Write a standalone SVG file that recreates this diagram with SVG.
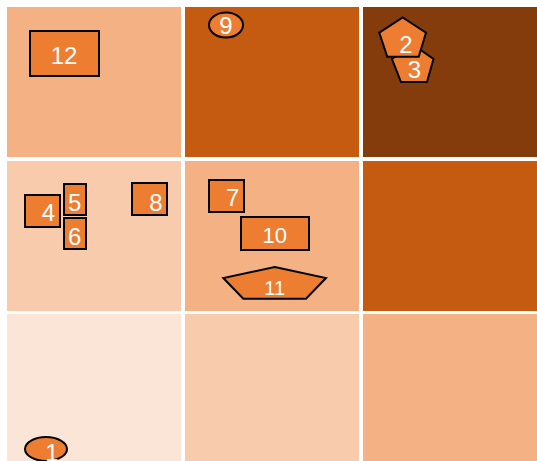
<svg xmlns="http://www.w3.org/2000/svg" width="537" height="461" viewBox="0 0 537 461">
<style>
.n{fill:#ED7D31;stroke:#000;stroke-width:2}
.t{fill:#fff;font-family:"Liberation Sans",Arial,sans-serif;font-size:24px;text-anchor:middle}
</style>
<rect width="537" height="461" fill="#fff"/>
<g id="grid">
<rect x="7" y="7" width="174" height="150" fill="#F4B183"/>
<rect x="185" y="7" width="174" height="150" fill="#C55A11"/>
<rect x="363" y="7" width="174" height="150" fill="#843C0C"/>
<rect x="7" y="161" width="174" height="150" fill="#F8CBAD"/>
<rect x="185" y="161" width="174" height="150" fill="#F4B183"/>
<rect x="363" y="161" width="174" height="150" fill="#C55A11"/>
<rect x="7" y="314" width="174" height="147" fill="#FBE5D6"/>
<rect x="185" y="314" width="174" height="147" fill="#F8CBAD"/>
<rect x="363" y="314" width="174" height="147" fill="#F4B183"/>
</g>
<g id="connectors"></g>
<g id="node12"><rect class="n" x="30" y="31" width="69" height="45"/><text class="t" x="64" y="64">12</text></g>
<g id="node9"><ellipse class="n" cx="226" cy="25" rx="17" ry="12.5"/><text class="t" x="226" y="34">9</text></g>
<g id="node3"><polygon class="n" points="412,44 433.5,59 427,82 401,82 392,59"/><text class="t" x="414.5" y="77.5">3</text></g>
<g id="node2"><polygon class="n" points="402.7,17.5 426,32.7 418.7,56.7 387.3,56.7 379.3,32.7"/><text class="t" x="406" y="52.5">2</text></g>
<g id="node4"><rect class="n" x="25" y="195" width="35" height="32"/><text class="t" x="48.5" y="220.5">4</text></g>
<g id="node5"><rect class="n" x="64" y="184" width="22" height="31"/><text class="t" x="74.7" y="211.3">5</text></g>
<g id="node6"><rect class="n" x="64" y="218" width="22" height="31"/><text class="t" x="74.7" y="244.7">6</text></g>
<g id="node8"><rect class="n" x="132" y="183" width="35" height="32"/><text class="t" x="156" y="211">8</text></g>
<g id="node7"><rect class="n" x="209" y="180" width="35" height="32"/><text class="t" x="232.7" y="206">7</text></g>
<g id="node10"><rect class="n" x="241" y="217" width="68" height="33"/><text class="t" x="274.7" y="242.7" style="font-size:22px">10</text></g>
<g id="node11"><polygon class="n" points="274.7,267 326,278 306,298.7 243.3,298.7 223.3,278"/><text class="t" x="274.7" y="294.5" style="font-size:20px">11</text></g>
<g id="node1"><ellipse class="n" cx="46" cy="449" rx="21" ry="12"/><text class="t" x="52" y="461">1</text></g>
</svg>
